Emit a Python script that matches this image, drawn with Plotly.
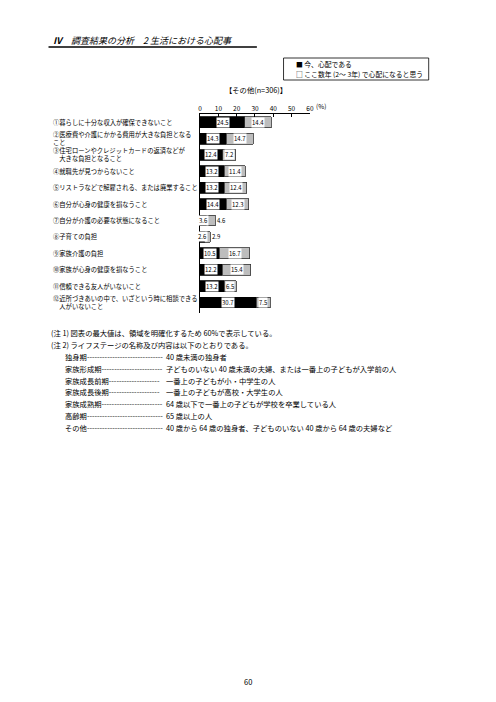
import plotly.graph_objects as go

FONT = "Noto Sans CJK JP"

categories = [
    "①暮らしに十分な収入が確保できないこと",
    "②医療費や介護にかかる費用が大きな負担となる<br>こと",
    "③住宅ローンやクレジットカードの返済などが<br>　大きな負担となること",
    "④就職先が見つからないこと",
    "⑤リストラなどで解雇される、または廃業すること",
    "⑥自分が心身の健康を損なうこと",
    "⑦自分が介護の必要な状態になること",
    "⑧子育ての負担",
    "⑨家族介護の負担",
    "⑩家族が心身の健康を損なうこと",
    "⑪信頼できる友人がいないこと",
    "⑫近所づきあいの中で、いざという時に相談できる<br>　人がいないこと",
]
now_worry = [24.5, 14.3, 12.4, 13.2, 13.2, 14.4, 3.6, 2.6, 10.5, 12.2, 13.2, 30.7]
future_worry = [14.4, 14.7, 7.2, 11.4, 12.4, 12.3, 4.6, 2.9, 16.7, 15.4, 6.5, 7.5]
tick_vals = [0, 10, 20, 30, 40, 50, 60]
series_names = ["今、心配である", "ここ数年 (2～ 3年) で心配になると思う"]
chart_title = "【その他(n=306)】"
header = "<b><i>Ⅳ</i></b>　<i>調査結果の分析　2 生活における心配事</i>"
notes = [
    "(注 1) 図表の最大値は、領域を明確化するため 60%で表示している。",
    "(注 2) ライフステージの名称及び内容は以下のとおりである。",
]
stages = ["独身期", "家族形成期", "家族成長前期", "家族成長後期", "家族成熟期", "高齢期", "その他"]
stage_dashes = [30, 24, 20, 20, 24, 30, 30]
stage_desc = [
    "40 歳未満の独身者",
    "子どものいない 40 歳未満の夫婦、または一番上の子どもが入学前の人",
    "一番上の子どもが小・中学生の人",
    "一番上の子どもが高校・大学生の人",
    "64 歳以下で一番上の子どもが学校を卒業している人",
    "65 歳以上の人",
    "40 歳から 64 歳の独身者、子どものいない 40 歳から 64 歳の夫婦など",
]
page_no = "60"

# page body has an 8px margin; figure sized so page == 496x702
OFF = 8
W, H = 496 - 2 * OFF, 702 - 2 * OFF
def px(x):
    return (x - OFF) / W
def py(y):
    return 1 - (y - OFF) / H

fig = go.Figure()
fig.add_trace(go.Bar(y=categories, x=now_worry, orientation="h", name=series_names[0],
                     marker=dict(color="black", line=dict(color="black", width=0.8)),
                     width=0.66))
fig.add_trace(go.Bar(y=categories, x=future_worry, orientation="h", name=series_names[1],
                     marker=dict(color="#bdbdbd", line=dict(color="#333333", width=0.8)),
                     width=0.66))

ann = []
def A(**kw):
    kw.setdefault("showarrow", False)
    kw.setdefault("yanchor", "middle")
    ann.append(kw)

for c, a, b in zip(categories, now_worry, future_worry):
    A(x=a / 2, y=c, xref="x", yref="y", text=f"{a:.1f}", xanchor="center",
      font=dict(family=FONT, size=6, color="black"), bgcolor="white", borderpad=0)
    if b < 6:
        A(x=a + b + 0.6, y=c, xref="x", yref="y", text=f"{b:.1f}", xanchor="left",
          font=dict(family=FONT, size=6, color="black"), borderpad=0)
    else:
        A(x=a + b / 2, y=c, xref="x", yref="y", text=f"{b:.1f}", xanchor="center",
          font=dict(family=FONT, size=6, color="black"), bgcolor="white", borderpad=0)
for c in categories:
    A(x=px(50), y=c, xref="paper", yref="y", text=c, xanchor="left", align="left",
      font=dict(family=FONT, size=6.3, color="black"))
A(x=px(316), y=py(106), xref="paper", yref="paper", text="(%)", xanchor="left",
  font=dict(family=FONT, size=6.5, color="black"))
A(x=px(257), y=py(90), xref="paper", yref="paper", text=chart_title, xanchor="center",
  font=dict(family=FONT, size=7.3, color="black"))
A(x=px(50), y=py(41), xref="paper", yref="paper", text=header, xanchor="left",
  font=dict(family=FONT, size=9, color="black"))
A(x=px(296), y=py(64), xref="paper", yref="paper", text="■ " + series_names[0], xanchor="left",
  font=dict(family=FONT, size=6.8, color="black"))
A(x=px(296), y=py(74), xref="paper", yref="paper", text="□ " + series_names[1], xanchor="left",
  font=dict(family=FONT, size=6.8, color="black"))
for i, t in enumerate(notes):
    A(x=px(47), y=py(333 + 12 * i), xref="paper", yref="paper", text=t, xanchor="left",
      font=dict(family=FONT, size=7.3, color="black"))
for i, (s, n, d) in enumerate(zip(stages, stage_dashes, stage_desc)):
    yy = py(357 + 11.8 * i)
    A(x=px(62), y=yy, xref="paper", yref="paper", text=s + "-" * n, xanchor="left",
      font=dict(family=FONT, size=7.3, color="black"))
    A(x=px(164), y=yy, xref="paper", yref="paper", text=d, xanchor="left",
      font=dict(family=FONT, size=7.3, color="black"))
A(x=px(249), y=py(681), xref="paper", yref="paper", text=page_no, xanchor="center",
  font=dict(family=FONT, size=7.5, color="black"))

shapes = [
    dict(type="line", xref="paper", yref="paper", x0=px(47), x1=px(258), y0=py(47), y1=py(47),
         line=dict(color="black", width=1.6)),
    dict(type="rect", xref="paper", yref="paper", x0=px(285), x1=px(432), y0=py(58), y1=py(80),
         line=dict(color="black", width=0.8)),
]

fig.update_layout(
    width=W, height=H, barmode="stack", showlegend=False,
    margin=dict(l=0, r=0, t=0, b=0),
    paper_bgcolor="white", plot_bgcolor="white",
    font=dict(family=FONT, color="black"),
    annotations=ann, shapes=shapes,
    xaxis=dict(domain=[px(200.5), px(311.7)], range=[0, 60], side="top", tickvals=tick_vals,
               showgrid=False, zeroline=False, showline=True, linecolor="black", linewidth=0.8,
               ticks="inside", ticklen=3, tickcolor="black", tickwidth=0.8,
               tickfont=dict(family=FONT, size=6.5, color="black")),
    yaxis=dict(domain=[py(313), py(114)], autorange="reversed", showticklabels=False,
               showgrid=False, zeroline=False, showline=True, linecolor="black", linewidth=0.8,
               ticks=""),
)
fig.write_html("out.html")
